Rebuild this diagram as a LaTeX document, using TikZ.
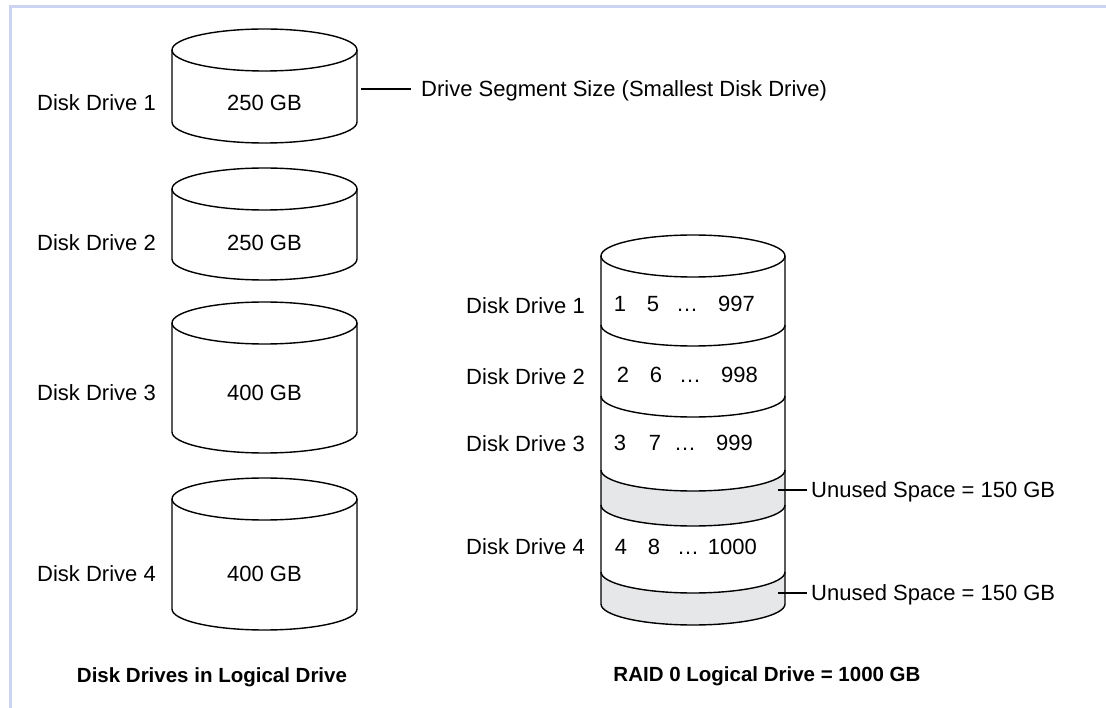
\documentclass[tikz,border=0pt]{standalone}
\usepackage{fontspec}
\setmainfont{Liberation Sans}
\usepackage{tikz}
\usetikzlibrary{positioning}
\definecolor{unused}{HTML}{E6E7E8}
\definecolor{rim}{HTML}{CDD3F3}

\tikzset{
  lbl/.style={font=\fontsize{22}{26}\selectfont, inner sep=0pt, text height=15.8pt, text depth=0pt},
  capt/.style={font=\fontsize{20.5}{24}\selectfont\bfseries, inner sep=0pt, text height=14.8pt, text depth=0pt},
  disk/.style={line width=1.4pt},
  lead/.style={line width=1.6pt},
  rimline/.style={draw=rim, line width=3pt}
}

\begin{document}
\begin{tikzpicture}[x=1pt,y=-1pt]
  \useasboundingbox (0,0) rectangle (1106,708);
  \draw[rimline] (10,708) -- (10,6.5) -- (1106,6.5);

  % left column: the four drives
  \draw[disk] (264.5,50) ellipse [x radius=92.5, y radius=21];
  \draw[disk] (172,50) -- (172,122) arc[start angle=180, end angle=0, x radius=92.5, y radius=21] -- (357,50);
  \node[lbl, anchor=east] (l1) at (156,103) {Disk Drive 1};
  \node[lbl] (c1) at (264.5,103) {250 GB};

  \draw[disk] (264.5,189) ellipse [x radius=92.5, y radius=21];
  \draw[disk] (172,189) -- (172,259) arc[start angle=180, end angle=0, x radius=92.5, y radius=21] -- (357,189);
  \node[lbl, anchor=east] (l2) at (156,243) {Disk Drive 2};
  \node[lbl] (c2) at (264.5,243) {250 GB};

  \draw[disk] (264.5,323) ellipse [x radius=92.5, y radius=21];
  \draw[disk] (172,323) -- (172,432) arc[start angle=180, end angle=0, x radius=92.5, y radius=21] -- (357,323);
  \node[lbl, anchor=east] (l3) at (156,393) {Disk Drive 3};
  \node[lbl] (c3) at (264.5,393) {400 GB};

  \draw[disk] (264.5,499) ellipse [x radius=92.5, y radius=21];
  \draw[disk] (172,499) -- (172,609) arc[start angle=180, end angle=0, x radius=92.5, y radius=21] -- (357,499);
  \node[lbl, anchor=east] (l4) at (156,574) {Disk Drive 4};
  \node[lbl] (c4) at (264.5,574) {400 GB};

  \coordinate (seg) at (361,89);
  \node[lbl, anchor=west] (segtxt) at (421,89) {Drive Segment Size (Smallest Disk Drive)};
  \draw[lead] (seg) -- ([xshift=-10pt]segtxt.west);

  \node[capt] (leftcap) at (212,675) {Disk Drives in Logical Drive};

  % right column: the striped logical drive
  \fill[unused] (601,470) arc[start angle=180, end angle=0, x radius=92, y radius=21]
    -- (785,505) arc[start angle=0, end angle=180, x radius=92, y radius=21] -- cycle;
  \fill[unused] (601,572) arc[start angle=180, end angle=0, x radius=92, y radius=21]
    -- (785,604) arc[start angle=0, end angle=180, x radius=92, y radius=21] -- cycle;
  \draw[disk] (693,256) ellipse [x radius=92, y radius=21];
  \draw[disk] (601,256) -- (601,604) arc[start angle=180, end angle=0, x radius=92, y radius=21] -- (785,256);
  \draw[disk] (601,325) arc[start angle=180, end angle=0, x radius=92, y radius=21];
  \draw[disk] (601,396) arc[start angle=180, end angle=0, x radius=92, y radius=21];
  \draw[disk] (601,470) arc[start angle=180, end angle=0, x radius=92, y radius=21];
  \draw[disk] (601,505) arc[start angle=180, end angle=0, x radius=92, y radius=21];
  \draw[disk] (601,572) arc[start angle=180, end angle=0, x radius=92, y radius=21];

  \node[lbl, anchor=east] (r1) at (585,306) {Disk Drive 1};
  \node[lbl, anchor=east] (r2) at (585,377) {Disk Drive 2};
  \node[lbl, anchor=east] (r3) at (585,444) {Disk Drive 3};
  \node[lbl, anchor=east] (r4) at (585,547) {Disk Drive 4};

  \node[lbl] (s1a) at (620,304) {1};
  \node[lbl] (s1b) at (653,304) {5};
  \node[lbl] (s1c) at (687,304) {\dots};
  \node[lbl, anchor=east] (s1d) at (755,304) {997};

  \node[lbl] (s2a) at (623,375) {2};
  \node[lbl] (s2b) at (656,375) {6};
  \node[lbl] (s2c) at (690,375) {\dots};
  \node[lbl, anchor=east] (s2d) at (758,375) {998};

  \node[lbl] (s3a) at (620,443) {3};
  \node[lbl] (s3b) at (655,443) {7};
  \node[lbl] (s3c) at (685,443) {\dots};
  \node[lbl, anchor=east] (s3d) at (753,443) {999};

  \node[lbl] (s4a) at (621,547) {4};
  \node[lbl] (s4b) at (654,547) {8};
  \node[lbl] (s4c) at (688,547) {\dots};
  \node[lbl, anchor=east] (s4d) at (757,547) {1000};

  \coordinate (gap1) at (778,490);
  \coordinate (gap2) at (778,593);
  \node[lbl, anchor=west] (unused1) at (811,490) {Unused Space = 150 GB};
  \node[lbl, anchor=west] (unused2) at (811,593) {Unused Space = 150 GB};
  \draw[lead] (gap1) -- ([xshift=-4pt]unused1.west);
  \draw[lead] (gap2) -- ([xshift=-4pt]unused2.west);

  \node[capt] (rightcap) at (767,674) {RAID 0 Logical Drive = 1000 GB};
\end{tikzpicture}
\end{document}
